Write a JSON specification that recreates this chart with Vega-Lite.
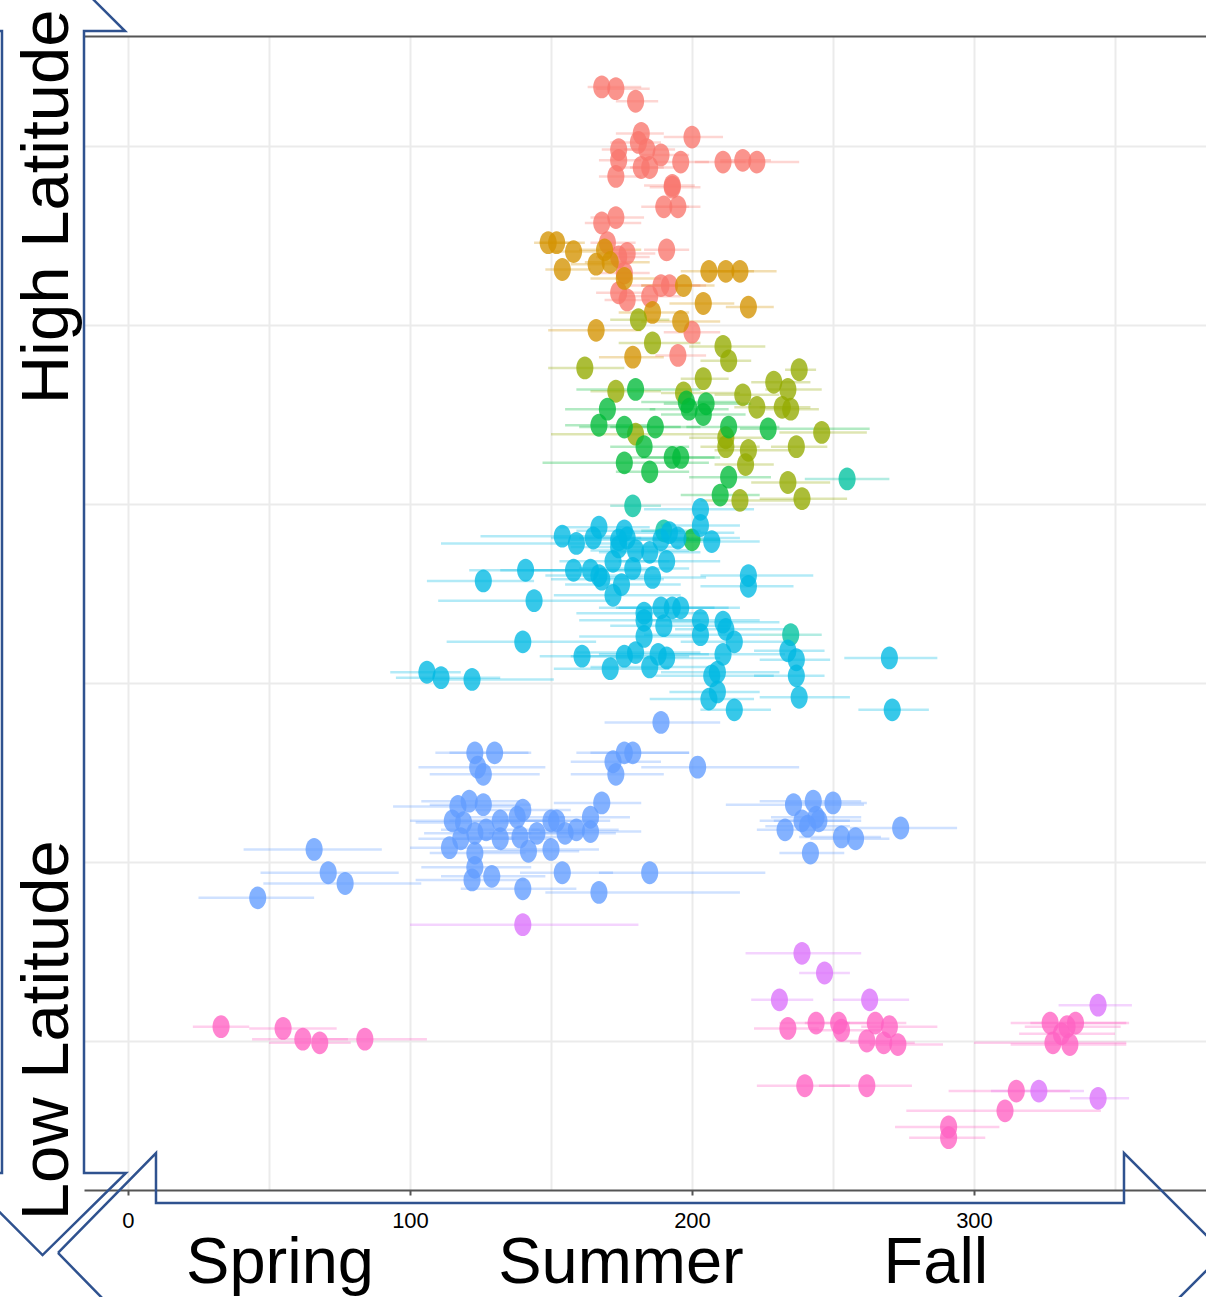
{
  "$schema": "https://vega.github.io/schema/vega-lite/v6.json",
  "width": 1122,
  "height": 1154,
  "autosize": {"type": "none"},
  "padding": {"left": 84, "top": 36, "right": 0, "bottom": 107},
  "background": "white",
  "config": {"view": {"stroke": null}},
  "datasets": {
    "pts": [
      {"g":"g1","d":168,"lat":63.3,"lo":163,"hi":182},{"g":"g1","d":173,"lat":63.2,"lo":166,"hi":185},{"g":"g1","d":180,"lat":62.5,"lo":173,"hi":188},{"g":"g1","d":182,"lat":60.7,"lo":173,"hi":190},{"g":"g1","d":181,"lat":60.2,"lo":171,"hi":189},{"g":"g1","d":200,"lat":60.5,"lo":190,"hi":211},{"g":"g1","d":174,"lat":59.8,"lo":168,"hi":183},{"g":"g1","d":174,"lat":59.2,"lo":167,"hi":182},{"g":"g1","d":184,"lat":59.8,"lo":176,"hi":194},{"g":"g1","d":189,"lat":59.5,"lo":182,"hi":199},{"g":"g1","d":196,"lat":59.1,"lo":187,"hi":206},{"g":"g1","d":211,"lat":59.1,"lo":201,"hi":219},{"g":"g1","d":218,"lat":59.2,"lo":210,"hi":228},{"g":"g1","d":223,"lat":59.1,"lo":210,"hi":238},{"g":"g1","d":173,"lat":58.3,"lo":167,"hi":182},{"g":"g1","d":182,"lat":58.8,"lo":174,"hi":190},{"g":"g1","d":185,"lat":58.8,"lo":178,"hi":194},{"g":"g1","d":193,"lat":57.8,"lo":183,"hi":201},{"g":"g1","d":193,"lat":57.7,"lo":185,"hi":203},{"g":"g1","d":190,"lat":56.6,"lo":182,"hi":199},{"g":"g1","d":195,"lat":56.6,"lo":187,"hi":203},{"g":"g1","d":168,"lat":55.7,"lo":162,"hi":182},{"g":"g1","d":173,"lat":56.0,"lo":164,"hi":183},{"g":"g1","d":170,"lat":54.6,"lo":164,"hi":180},{"g":"g1","d":191,"lat":54.2,"lo":183,"hi":199},{"g":"g1","d":174,"lat":53.8,"lo":166,"hi":185},{"g":"g1","d":177,"lat":54.0,"lo":167,"hi":187},{"g":"g1","d":176,"lat":52.9,"lo":167,"hi":185},{"g":"g1","d":189,"lat":52.2,"lo":178,"hi":203},{"g":"g1","d":192,"lat":52.2,"lo":182,"hi":205},{"g":"g1","d":185,"lat":51.6,"lo":176,"hi":196},{"g":"g1","d":174,"lat":51.8,"lo":166,"hi":183},{"g":"g1","d":177,"lat":51.4,"lo":169,"hi":185},{"g":"g1","d":200,"lat":49.6,"lo":190,"hi":210},{"g":"g1","d":195,"lat":48.3,"lo":187,"hi":205},
      {"g":"g2","d":149,"lat":54.6,"lo":144,"hi":157},{"g":"g2","d":152,"lat":54.6,"lo":146,"hi":162},{"g":"g2","d":158,"lat":54.1,"lo":150,"hi":167},{"g":"g2","d":154,"lat":53.1,"lo":148,"hi":164},{"g":"g2","d":166,"lat":53.4,"lo":157,"hi":176},{"g":"g2","d":169,"lat":54.2,"lo":160,"hi":182},{"g":"g2","d":171,"lat":53.5,"lo":162,"hi":185},{"g":"g2","d":176,"lat":52.6,"lo":164,"hi":189},{"g":"g2","d":206,"lat":53.0,"lo":196,"hi":217},{"g":"g2","d":212,"lat":53.0,"lo":203,"hi":222},{"g":"g2","d":217,"lat":53.0,"lo":206,"hi":230},{"g":"g2","d":197,"lat":52.2,"lo":182,"hi":208},{"g":"g2","d":204,"lat":51.2,"lo":192,"hi":215},{"g":"g2","d":220,"lat":51.0,"lo":212,"hi":229},{"g":"g2","d":186,"lat":50.7,"lo":174,"hi":199},{"g":"g2","d":196,"lat":50.2,"lo":182,"hi":210},{"g":"g2","d":166,"lat":49.7,"lo":149,"hi":182},{"g":"g2","d":179,"lat":48.2,"lo":167,"hi":190},
      {"g":"g3","d":181,"lat":50.3,"lo":171,"hi":192},{"g":"g3","d":186,"lat":49.0,"lo":174,"hi":203},{"g":"g3","d":162,"lat":47.6,"lo":149,"hi":176},{"g":"g3","d":211,"lat":48.8,"lo":199,"hi":226},{"g":"g3","d":213,"lat":48.0,"lo":203,"hi":221},{"g":"g3","d":204,"lat":47.0,"lo":196,"hi":213},{"g":"g3","d":173,"lat":46.3,"lo":164,"hi":189},{"g":"g3","d":197,"lat":46.2,"lo":189,"hi":217},{"g":"g3","d":218,"lat":46.1,"lo":208,"hi":231},{"g":"g3","d":223,"lat":45.4,"lo":215,"hi":235},{"g":"g3","d":229,"lat":46.8,"lo":221,"hi":242},{"g":"g3","d":234,"lat":46.4,"lo":226,"hi":246},{"g":"g3","d":238,"lat":47.5,"lo":233,"hi":244},{"g":"g3","d":232,"lat":45.4,"lo":224,"hi":242},{"g":"g3","d":235,"lat":45.3,"lo":226,"hi":245},{"g":"g3","d":180,"lat":43.9,"lo":150,"hi":210},{"g":"g3","d":212,"lat":43.7,"lo":199,"hi":226},{"g":"g3","d":212,"lat":43.2,"lo":203,"hi":224},{"g":"g3","d":220,"lat":43.0,"lo":208,"hi":235},{"g":"g3","d":219,"lat":42.2,"lo":208,"hi":229},{"g":"g3","d":246,"lat":44.0,"lo":231,"hi":262},{"g":"g3","d":237,"lat":43.2,"lo":228,"hi":248},{"g":"g3","d":234,"lat":41.2,"lo":221,"hi":249},{"g":"g3","d":239,"lat":40.3,"lo":224,"hi":255},{"g":"g3","d":217,"lat":40.2,"lo":203,"hi":237},
      {"g":"g4","d":180,"lat":46.4,"lo":159,"hi":203},{"g":"g4","d":198,"lat":45.7,"lo":182,"hi":217},{"g":"g4","d":199,"lat":45.3,"lo":185,"hi":213},{"g":"g4","d":205,"lat":45.6,"lo":190,"hi":221},{"g":"g4","d":204,"lat":45.0,"lo":189,"hi":219},{"g":"g4","d":170,"lat":45.3,"lo":155,"hi":187},{"g":"g4","d":167,"lat":44.4,"lo":155,"hi":185},{"g":"g4","d":176,"lat":44.3,"lo":160,"hi":196},{"g":"g4","d":187,"lat":44.3,"lo":171,"hi":203},{"g":"g4","d":183,"lat":43.2,"lo":171,"hi":199},{"g":"g4","d":176,"lat":42.3,"lo":147,"hi":206},{"g":"g4","d":193,"lat":42.6,"lo":178,"hi":208},{"g":"g4","d":196,"lat":42.6,"lo":182,"hi":210},{"g":"g4","d":185,"lat":41.8,"lo":173,"hi":199},{"g":"g4","d":213,"lat":44.3,"lo":198,"hi":231},{"g":"g4","d":227,"lat":44.2,"lo":217,"hi":263},{"g":"g4","d":213,"lat":41.5,"lo":199,"hi":228},{"g":"g4","d":210,"lat":40.5,"lo":196,"hi":224},{"g":"g4","d":200,"lat":38.0,"lo":189,"hi":210},
      {"g":"g5","d":255,"lat":41.4,"lo":240,"hi":270},{"g":"g5","d":179,"lat":39.9,"lo":171,"hi":189},{"g":"g5","d":190,"lat":38.5,"lo":182,"hi":203},{"g":"g5","d":235,"lat":32.7,"lo":224,"hi":246},
      {"g":"g6","d":203,"lat":39.7,"lo":183,"hi":222},{"g":"g6","d":203,"lat":38.8,"lo":189,"hi":217},{"g":"g6","d":154,"lat":38.2,"lo":125,"hi":178},{"g":"g6","d":159,"lat":37.8,"lo":111,"hi":182},{"g":"g6","d":167,"lat":38.7,"lo":153,"hi":185},{"g":"g6","d":165,"lat":38.1,"lo":150,"hi":182},{"g":"g6","d":176,"lat":38.5,"lo":159,"hi":196},{"g":"g6","d":177,"lat":38.1,"lo":160,"hi":199},{"g":"g6","d":174,"lat":37.6,"lo":157,"hi":196},{"g":"g6","d":180,"lat":37.4,"lo":164,"hi":199},{"g":"g6","d":185,"lat":37.3,"lo":167,"hi":203},{"g":"g6","d":189,"lat":38.0,"lo":171,"hi":210},{"g":"g6","d":195,"lat":38.1,"lo":178,"hi":217},{"g":"g6","d":207,"lat":37.9,"lo":190,"hi":224},{"g":"g6","d":191,"lat":36.8,"lo":174,"hi":210},{"g":"g6","d":158,"lat":36.3,"lo":132,"hi":182},{"g":"g6","d":164,"lat":36.3,"lo":143,"hi":185},{"g":"g6","d":167,"lat":36.0,"lo":148,"hi":189},{"g":"g6","d":168,"lat":35.8,"lo":150,"hi":190},{"g":"g6","d":172,"lat":36.8,"lo":153,"hi":192},{"g":"g6","d":179,"lat":36.4,"lo":160,"hi":199},{"g":"g6","d":175,"lat":35.5,"lo":155,"hi":196},{"g":"g6","d":172,"lat":34.9,"lo":151,"hi":196},{"g":"g6","d":186,"lat":35.9,"lo":167,"hi":205},{"g":"g6","d":126,"lat":35.7,"lo":106,"hi":144},{"g":"g6","d":141,"lat":36.3,"lo":121,"hi":160},{"g":"g6","d":144,"lat":34.6,"lo":110,"hi":171},{"g":"g6","d":220,"lat":36.0,"lo":203,"hi":243},{"g":"g6","d":220,"lat":35.4,"lo":203,"hi":236},{"g":"g6","d":183,"lat":33.9,"lo":159,"hi":205},{"g":"g6","d":183,"lat":33.5,"lo":160,"hi":203},{"g":"g6","d":189,"lat":34.2,"lo":167,"hi":208},{"g":"g6","d":193,"lat":34.2,"lo":173,"hi":213},{"g":"g6","d":196,"lat":34.2,"lo":174,"hi":217},{"g":"g6","d":190,"lat":33.2,"lo":171,"hi":213},{"g":"g6","d":203,"lat":33.5,"lo":182,"hi":224},{"g":"g6","d":203,"lat":32.7,"lo":183,"hi":224},{"g":"g6","d":211,"lat":33.4,"lo":192,"hi":231},{"g":"g6","d":212,"lat":33.0,"lo":194,"hi":233},{"g":"g6","d":215,"lat":32.3,"lo":196,"hi":235},{"g":"g6","d":211,"lat":31.6,"lo":190,"hi":233},{"g":"g6","d":209,"lat":30.6,"lo":189,"hi":231},{"g":"g6","d":207,"lat":30.4,"lo":187,"hi":229},{"g":"g6","d":209,"lat":29.5,"lo":192,"hi":224},{"g":"g6","d":206,"lat":29.1,"lo":185,"hi":222},{"g":"g6","d":215,"lat":28.5,"lo":203,"hi":228},{"g":"g6","d":183,"lat":32.6,"lo":160,"hi":206},{"g":"g6","d":180,"lat":31.7,"lo":159,"hi":203},{"g":"g6","d":176,"lat":31.5,"lo":157,"hi":199},{"g":"g6","d":188,"lat":31.6,"lo":167,"hi":206},{"g":"g6","d":191,"lat":31.4,"lo":171,"hi":210},{"g":"g6","d":185,"lat":30.9,"lo":164,"hi":206},{"g":"g6","d":171,"lat":30.8,"lo":151,"hi":192},{"g":"g6","d":161,"lat":31.5,"lo":146,"hi":182},{"g":"g6","d":140,"lat":32.3,"lo":113,"hi":166},{"g":"g6","d":106,"lat":30.6,"lo":93,"hi":118},{"g":"g6","d":111,"lat":30.3,"lo":95,"hi":132},{"g":"g6","d":122,"lat":30.2,"lo":104,"hi":151},{"g":"g6","d":234,"lat":31.8,"lo":222,"hi":247},{"g":"g6","d":237,"lat":31.3,"lo":224,"hi":249},{"g":"g6","d":237,"lat":30.4,"lo":222,"hi":247},{"g":"g6","d":238,"lat":29.2,"lo":224,"hi":256},{"g":"g6","d":270,"lat":31.4,"lo":254,"hi":287},{"g":"g6","d":271,"lat":28.5,"lo":259,"hi":284},{"g":"g6","d":192,"lat":38.4,"lo":174,"hi":215},{"g":"g6","d":174,"lat":38.0,"lo":157,"hi":189},
      {"g":"g7","d":189,"lat":27.8,"lo":169,"hi":210},{"g":"g7","d":123,"lat":26.1,"lo":109,"hi":143},{"g":"g7","d":130,"lat":26.1,"lo":114,"hi":142},{"g":"g7","d":124,"lat":25.3,"lo":103,"hi":148},{"g":"g7","d":126,"lat":24.9,"lo":107,"hi":146},{"g":"g7","d":176,"lat":26.1,"lo":159,"hi":199},{"g":"g7","d":179,"lat":26.1,"lo":164,"hi":199},{"g":"g7","d":172,"lat":25.6,"lo":157,"hi":189},{"g":"g7","d":173,"lat":24.9,"lo":157,"hi":190},{"g":"g7","d":202,"lat":25.3,"lo":182,"hi":238},{"g":"g7","d":117,"lat":23.1,"lo":94,"hi":139},{"g":"g7","d":121,"lat":23.4,"lo":104,"hi":139},{"g":"g7","d":126,"lat":23.2,"lo":107,"hi":143},{"g":"g7","d":115,"lat":22.3,"lo":100,"hi":135},{"g":"g7","d":119,"lat":22.2,"lo":102,"hi":139},{"g":"g7","d":114,"lat":20.8,"lo":100,"hi":132},{"g":"g7","d":118,"lat":21.3,"lo":103,"hi":137},{"g":"g7","d":123,"lat":21.6,"lo":105,"hi":143},{"g":"g7","d":127,"lat":21.8,"lo":111,"hi":146},{"g":"g7","d":132,"lat":22.3,"lo":114,"hi":150},{"g":"g7","d":132,"lat":21.3,"lo":116,"hi":150},{"g":"g7","d":138,"lat":22.5,"lo":121,"hi":155},{"g":"g7","d":140,"lat":22.9,"lo":123,"hi":157},{"g":"g7","d":139,"lat":21.4,"lo":121,"hi":157},{"g":"g7","d":145,"lat":21.6,"lo":128,"hi":162},{"g":"g7","d":142,"lat":20.6,"lo":125,"hi":160},{"g":"g7","d":150,"lat":22.3,"lo":132,"hi":167},{"g":"g7","d":152,"lat":22.3,"lo":134,"hi":171},{"g":"g7","d":150,"lat":20.7,"lo":132,"hi":167},{"g":"g7","d":155,"lat":21.6,"lo":137,"hi":173},{"g":"g7","d":159,"lat":21.8,"lo":143,"hi":174},{"g":"g7","d":164,"lat":21.7,"lo":146,"hi":182},{"g":"g7","d":164,"lat":22.5,"lo":148,"hi":178},{"g":"g7","d":168,"lat":23.3,"lo":151,"hi":182},{"g":"g7","d":123,"lat":20.5,"lo":107,"hi":141},{"g":"g7","d":123,"lat":19.7,"lo":104,"hi":143},{"g":"g7","d":122,"lat":19.0,"lo":102,"hi":141},{"g":"g7","d":129,"lat":19.2,"lo":111,"hi":148},{"g":"g7","d":140,"lat":18.5,"lo":118,"hi":159},{"g":"g7","d":154,"lat":19.4,"lo":139,"hi":172},{"g":"g7","d":167,"lat":18.3,"lo":148,"hi":217},{"g":"g7","d":185,"lat":19.4,"lo":167,"hi":226},{"g":"g7","d":236,"lat":23.2,"lo":212,"hi":261},{"g":"g7","d":243,"lat":23.4,"lo":224,"hi":260},{"g":"g7","d":250,"lat":23.3,"lo":233,"hi":262},{"g":"g7","d":233,"lat":21.8,"lo":223,"hi":252},{"g":"g7","d":239,"lat":22.3,"lo":224,"hi":256},{"g":"g7","d":244,"lat":22.5,"lo":228,"hi":260},{"g":"g7","d":241,"lat":22.0,"lo":226,"hi":256},{"g":"g7","d":253,"lat":21.4,"lo":238,"hi":267},{"g":"g7","d":258,"lat":21.3,"lo":242,"hi":270},{"g":"g7","d":242,"lat":20.5,"lo":231,"hi":254},{"g":"g7","d":274,"lat":21.9,"lo":256,"hi":294},{"g":"g7","d":245,"lat":22.3,"lo":229,"hi":260},{"g":"g7","d":46,"lat":18.0,"lo":25,"hi":66},{"g":"g7","d":66,"lat":20.7,"lo":41,"hi":90},{"g":"g7","d":71,"lat":19.4,"lo":47,"hi":96},{"g":"g7","d":77,"lat":18.8,"lo":48,"hi":104},
      {"g":"g8","d":140,"lat":16.5,"lo":100,"hi":181},{"g":"g8","d":239,"lat":14.9,"lo":219,"hi":260},{"g":"g8","d":247,"lat":13.8,"lo":238,"hi":256},{"g":"g8","d":231,"lat":12.3,"lo":221,"hi":243},{"g":"g8","d":263,"lat":12.3,"lo":250,"hi":277},{"g":"g8","d":344,"lat":12.0,"lo":330,"hi":356},{"g":"g8","d":323,"lat":7.2,"lo":306,"hi":339},{"g":"g8","d":344,"lat":6.8,"lo":334,"hi":355},
      {"g":"g9","d":33,"lat":10.8,"lo":23,"hi":43},{"g":"g9","d":55,"lat":10.7,"lo":43,"hi":74},{"g":"g9","d":62,"lat":10.1,"lo":44,"hi":78},{"g":"g9","d":68,"lat":9.9,"lo":50,"hi":79},{"g":"g9","d":84,"lat":10.1,"lo":68,"hi":106},{"g":"g9","d":234,"lat":10.7,"lo":222,"hi":245},{"g":"g9","d":244,"lat":11.0,"lo":231,"hi":256},{"g":"g9","d":252,"lat":11.0,"lo":240,"hi":263},{"g":"g9","d":253,"lat":10.6,"lo":242,"hi":267},{"g":"g9","d":265,"lat":11.0,"lo":252,"hi":276},{"g":"g9","d":270,"lat":10.8,"lo":260,"hi":287},{"g":"g9","d":262,"lat":10.0,"lo":251,"hi":276},{"g":"g9","d":268,"lat":9.9,"lo":256,"hi":279},{"g":"g9","d":273,"lat":9.8,"lo":263,"hi":289},{"g":"g9","d":240,"lat":7.5,"lo":223,"hi":256},{"g":"g9","d":262,"lat":7.5,"lo":245,"hi":278},{"g":"g9","d":291,"lat":5.2,"lo":272,"hi":309},{"g":"g9","d":291,"lat":4.6,"lo":277,"hi":304},{"g":"g9","d":311,"lat":6.1,"lo":276,"hi":345},{"g":"g9","d":315,"lat":7.2,"lo":291,"hi":334},{"g":"g9","d":327,"lat":11.0,"lo":313,"hi":354},{"g":"g9","d":333,"lat":10.8,"lo":318,"hi":352},{"g":"g9","d":336,"lat":11.0,"lo":320,"hi":355},{"g":"g9","d":328,"lat":9.9,"lo":300,"hi":354},{"g":"g9","d":334,"lat":9.8,"lo":313,"hi":354},{"g":"g9","d":331,"lat":10.4,"lo":316,"hi":350}
    ],
    "arrows": [
      {"s":"v","i":0,"d":-30.3,"lat":71.01},{"s":"v","i":1,"d":-1.06,"lat":66.42},{"s":"v","i":2,"d":-15.6,"lat":66.42},{"s":"v","i":3,"d":-15.6,"lat":2.63},{"s":"v","i":4,"d":-0.71,"lat":2.63},{"s":"v","i":5,"d":-30.3,"lat":-1.96},{"s":"v","i":6,"d":-59.4,"lat":2.63},{"s":"v","i":7,"d":-44.68,"lat":2.63},{"s":"v","i":8,"d":-44.68,"lat":66.42},{"s":"v","i":9,"d":-59.4,"lat":66.42},{"s":"v","i":10,"d":-30.3,"lat":71.01},
      {"s":"h","i":0,"d":-24.82,"lat":-1.84},{"s":"h","i":1,"d":9.93,"lat":3.74},{"s":"h","i":2,"d":9.93,"lat":0.95},{"s":"h","i":3,"d":353.19,"lat":0.95},{"s":"h","i":4,"d":353.19,"lat":3.74},{"s":"h","i":5,"d":388.65,"lat":-1.84},{"s":"h","i":6,"d":353.19,"lat":-7.43},{"s":"h","i":7,"d":353.19,"lat":-4.64},{"s":"h","i":8,"d":9.93,"lat":-4.64},{"s":"h","i":9,"d":9.93,"lat":-7.43},{"s":"h","i":10,"d":-24.82,"lat":-1.84}
    ],
    "seasons": [
      {"t":"Spring","d":53.9,"lat":-3.52},{"t":"Summer","d":174.8,"lat":-3.52},{"t":"Fall","d":286.5,"lat":-3.52}
    ],
    "lats": [
      {"t":"High Latitude","d":-21.3,"lat":56.6},{"t":"Low Latitude","d":-21.3,"lat":10.6}
    ]
  },
  "layer": [
    {
      "data": {"name": "pts"},
      "mark": {"type": "rule", "strokeWidth": 2.5, "opacity": 0.3},
      "encoding": {
        "x": {"field": "lo", "type": "quantitative",
              "scale": {"domain": [-15.6, 382.27], "nice": false, "zero": false},
              "axis": {"title": null, "orient": "bottom", "values": [0,50,100,150,200,250,300,350],
                       "grid": true, "gridColor": "#EBEBEB", "gridWidth": 2,
                       "domain": true, "domainColor": "#555555", "domainWidth": 2,
                       "tickSize": 5, "tickWidth": 2, "tickColor": "#555555",
                       "tickOpacity": {"condition": {"test": "datum.value % 100 === 0", "value": 1}, "value": 0},
                       "labelExpr": "datum.value % 100 === 0 ? datum.label : ''",
                       "labelFont": "Liberation Sans", "labelFontSize": 22, "labelColor": "#000000",
                       "labelPadding": 15, "labelBaseline": "top", "labelFlush": false, "labelOverlap": false}},
        "x2": {"field": "hi"},
        "y": {"field": "lat", "type": "quantitative",
              "scale": {"domain": [1.676, 66.145], "nice": false, "zero": false},
              "axis": {"title": null, "values": [10,20,30,40,50,60], "grid": true, "gridColor": "#EBEBEB", "gridWidth": 2,
                       "labels": false, "ticks": false, "domain": false}},
        "color": {"field": "g", "type": "nominal", "legend": null,
                  "scale": {"domain": ["g1","g2","g3","g4","g5","g6","g7","g8","g9"],
                            "range": ["#F8766D","#D39200","#93AA00","#00BA38","#00C19F","#00B9E3","#619CFF","#DB72FB","#FF61C3"]}}
      }
    },
    {
      "data": {"name": "pts"},
      "mark": {"type": "point", "filled": true, "opacity": 0.78, "size": 520,
               "shape": "M -0.75 0 A 0.75 1 0 1 0 0.75 0 A 0.75 1 0 1 0 -0.75 0 Z"},
      "encoding": {
        "x": {"field": "d", "type": "quantitative", "scale": {"domain": [-15.6, 382.27], "nice": false, "zero": false},
              "axis": {"title": null, "orient": "top", "grid": false, "labels": false, "ticks": false,
                       "domain": true, "domainColor": "#555555", "domainWidth": 2}},
        "y": {"field": "lat", "type": "quantitative", "scale": {"domain": [1.676, 66.145], "nice": false, "zero": false}},
        "color": {"field": "g", "type": "nominal", "legend": null}
      }
    },
    {
      "data": {"name": "arrows"},
      "mark": {"type": "line", "stroke": "#2F528F", "strokeWidth": 2.5, "strokeJoin": "miter", "clip": false},
      "encoding": {
        "x": {"field": "d", "type": "quantitative", "scale": {"domain": [-15.6, 382.27], "nice": false, "zero": false}, "axis": null},
        "y": {"field": "lat", "type": "quantitative", "scale": {"domain": [1.676, 66.145], "nice": false, "zero": false}},
        "detail": {"field": "s", "type": "nominal"},
        "order": {"field": "i", "type": "quantitative"}
      }
    },
    {
      "data": {"name": "seasons"},
      "mark": {"type": "text", "font": "Liberation Sans", "fontSize": 65, "align": "center", "baseline": "alphabetic", "color": "#000000"},
      "encoding": {
        "x": {"field": "d", "type": "quantitative", "scale": {"domain": [-15.6, 382.27], "nice": false, "zero": false}, "axis": null},
        "y": {"field": "lat", "type": "quantitative", "scale": {"domain": [1.676, 66.145], "nice": false, "zero": false}},
        "text": {"field": "t"}
      }
    },
    {
      "data": {"name": "lats"},
      "mark": {"type": "text", "font": "Liberation Sans", "fontSize": 67, "align": "center", "baseline": "alphabetic", "angle": 270, "color": "#000000"},
      "encoding": {
        "x": {"field": "d", "type": "quantitative", "scale": {"domain": [-15.6, 382.27], "nice": false, "zero": false}, "axis": null},
        "y": {"field": "lat", "type": "quantitative", "scale": {"domain": [1.676, 66.145], "nice": false, "zero": false}},
        "text": {"field": "t"}
      }
    }
  ]
}
